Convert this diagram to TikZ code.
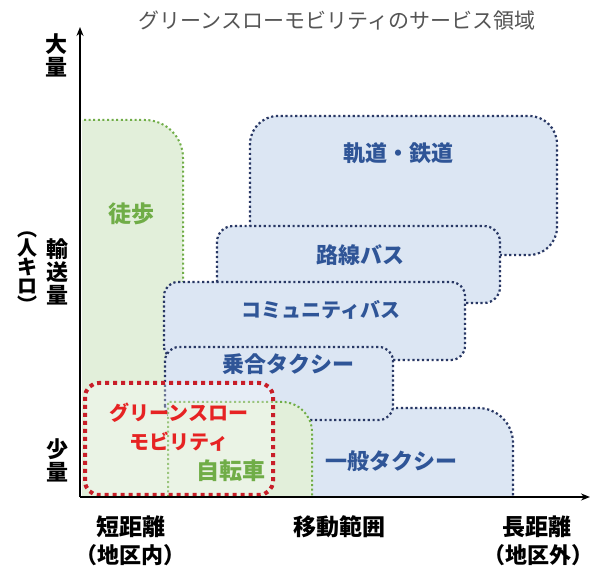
\documentclass[tikz,border=0pt]{standalone}
\usepackage{fontspec}
\setmainfont{Noto Sans CJK JP}
\usetikzlibrary{arrows.meta}
\definecolor{gfill}{RGB}{226,239,218}
\definecolor{bfill}{RGB}{220,230,243}
\definecolor{bline}{RGB}{40,55,100}
\definecolor{gline}{RGB}{112,173,71}
\definecolor{btext}{RGB}{47,85,151}
\definecolor{gtext}{RGB}{112,173,71}
\definecolor{rline}{RGB}{200,30,40}
\definecolor{rtext}{RGB}{230,35,35}
\definecolor{ttext}{RGB}{85,85,85}
\begin{document}
\begin{tikzpicture}[x=1pt,y=1pt,
  bluebox/.style={fill=bfill, draw=bline, line width=2.2pt, dash pattern=on 2.2pt off 2.6pt},
  blueedge/.style={draw=bline, line width=2.2pt, dash pattern=on 2.2pt off 2.6pt},
  greenedge/.style={draw=gline, line width=2pt, dash pattern=on 2pt off 2.6pt},
  redbox/.style={draw=rline, line width=4pt, dash pattern=on 4pt off 4pt, fill=white, fill opacity=0.3},
  axisline/.style={line width=2.8pt, -{Stealth[length=9pt,width=7pt]}},
  bluelbl/.style={text=btext, font=\fontsize{22}{22}\selectfont\bfseries},
  greenlbl/.style={text=gtext, font=\fontsize{23}{23}\selectfont\bfseries},
  redlbl/.style={text=rtext, font=\fontsize{20}{20}\selectfont\bfseries},
  axislbl/.style={text=black, font=\fontsize{23}{23}\selectfont\bfseries, align=center, inner sep=0pt},
  axissub/.style={text=black, font=\fontsize{22}{22}\selectfont\bfseries, align=center, inner sep=0pt},
  vlbl/.style={text=black, font=\fontsize{22}{23}\selectfont\bfseries, align=center, inner sep=0pt},
]
\useasboundingbox (0,0) rectangle (593,569);
\fill[white] (0,0) rectangle (593,569);

% rail
\draw[bluebox, rounded corners=28pt] (250,314) rectangle (557,453);
% route bus
\draw[bluebox, rounded corners=16pt] (217,266) rectangle (500,343);
% walking
\fill[gfill] (82,72) -- (82,449) -- (145,449) arc[start angle=90,end angle=0,radius=38] -- (183,72) -- cycle;
\draw[greenedge] (84,449) -- (145,449) arc[start angle=90,end angle=0,radius=38] -- (183,72);
% general taxi
\fill[bfill] (300,72) -- (300,161) -- (478,161) arc[start angle=90,end angle=0,radius=35] -- (513,72) -- cycle;
\draw[blueedge] (300,161) -- (478,161) arc[start angle=90,end angle=0,radius=35] -- (513,72);
% community bus
\draw[bluebox, rounded corners=14pt] (164,209) rectangle (465,287);
% shared taxi
\draw[bluebox, rounded corners=14pt] (165,149) rectangle (393,222);
% bicycle
\fill[gfill] (168,72) -- (168,167) -- (282,167) arc[start angle=90,end angle=0,radius=30] -- (312,72) -- cycle;
\draw[greenedge] (168,72) -- (168,167) -- (282,167) arc[start angle=90,end angle=0,radius=30] -- (312,72);
% green slow mobility
\draw[redbox, rounded corners=14pt] (85,74) rectangle (273,186);

% axes
\coordinate (O) at (80,72);
\coordinate (ytip) at (80,542);
\coordinate (xtip) at (590,72);
\draw[axisline] (O) -- (ytip);
\draw[axisline] (O) -- (xtip);

% title
\node[text=ttext, font=\fontsize{21}{21}\selectfont] (title) at (337,548) {グリーンスローモビリティのサービス領域};

% box labels
\node[bluelbl] (rail) at (398,416) {軌道・鉄道};
\node[bluelbl] (bus) at (360,314) {路線バス};
\node[bluelbl, font=\fontsize{20}{20}\selectfont\bfseries] (cbus) at (321,259) {コミュニティバス};
\node[bluelbl] (staxi) at (288,205) {乗合タクシー};
\node[bluelbl] (gtaxi) at (391,108) {一般タクシー};
\node[greenlbl] (walk) at (131,355) {徒歩};
\node[greenlbl] (bike) at (231,98) {自転車};
\node[redlbl, align=center, font=\fontsize{20}{29}\selectfont\bfseries] (gsm) at (179,142) {グリーンスロー\\モビリティ};

% axis labels
\node[vlbl] (ymax) at (56,514) {大\\量};
\node[vlbl] (yname) at (57,297) {輸\\送\\量};
\node[vlbl, font=\fontsize{20}{19}\selectfont\bfseries] (yunit) at (27,297) {︵\\人\\キ\\ロ\\︶};
\node[vlbl] (ymin) at (57,109) {少\\量};
\node[axislbl] (xmin) at (131,42) {短距離};
\node[axissub] (xminsub) at (130,14) {（地区内）};
\node[axislbl] (xmid) at (339,42) {移動範囲};
\node[axislbl] (xmax) at (537,42) {長距離};
\node[axissub] (xmaxsub) at (538,14) {（地区外）};
\end{tikzpicture}
\end{document}
